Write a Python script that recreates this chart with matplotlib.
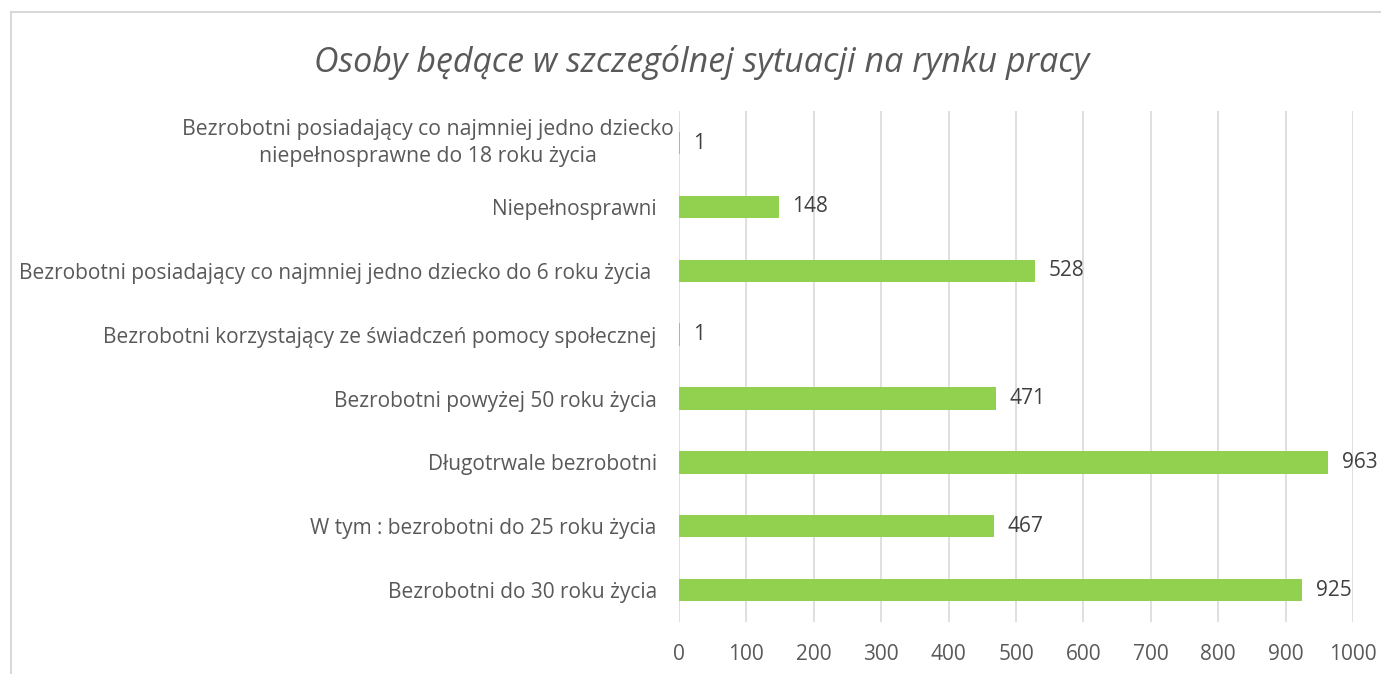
import matplotlib.pyplot as plt
from matplotlib.lines import Line2D

categories = [
    'Bezrobotni do 30 roku życia',
    'W tym : bezrobotni do 25 roku życia',
    'Długotrwale bezrobotni',
    'Bezrobotni powyżej 50 roku życia',
    'Bezrobotni korzystający ze świadczeń pomocy społecznej',
    'Bezrobotni posiadający co najmniej jedno dziecko do 6 roku życia ',
    'Niepełnosprawni',
    'Bezrobotni posiadający co najmniej jedno dziecko\nniepełnosprawne do 18 roku życia',
]
values = [925, 467, 963, 471, 1, 528, 148, 1]
xticks = [0, 100, 200, 300, 400, 500, 600, 700, 800, 900, 1000]

plt.rcParams['font.family'] = ['Open Sans', 'DejaVu Sans']
text_color = '#595959'

fig = plt.figure(figsize=(13.81, 6.74), dpi=100)
ax = fig.add_axes([0.4917, 0.0772, 0.488, 0.7578])

y = list(range(len(categories)))
ax.barh(y, values, height=0.35, color='#92D050', zorder=3)
for i, v in enumerate(values):
    ax.text(v + 20, i, str(v), va='center', ha='left', fontsize=15, color='#404040')

ax.set_xlim(0, 1000)
ax.set_ylim(-0.5, len(categories) - 0.5)
ax.set_xticks(xticks)
ax.set_xticklabels([str(t) for t in xticks])
ax.set_yticks(y)
# the wrapped label is drawn separately (centred, as in the original)
ax.set_yticklabels(categories[:-1] + [''])
ax.text(-0.3724, y[-1], categories[-1], transform=ax.get_yaxis_transform(),
        ha='center', va='center', multialignment='center', linespacing=1.35,
        fontsize=15.3, color=text_color)
ax.tick_params(axis='x', length=0, pad=16, labelsize=15, labelcolor=text_color)
ax.tick_params(axis='y', length=0, pad=16, labelsize=15, labelcolor=text_color)
ax.grid(axis='x', color='#D9D9D9', linewidth=1.2, zorder=0)
for s in ax.spines.values():
    s.set_visible(False)

fig.text(0.508, 0.908, 'Osoby będące w szczególnej sytuacji na rynku pracy',
         ha='center', va='center', fontsize=24.5, style='italic', color=text_color)

# chart border (clipped at right and bottom)
fig.add_artist(Line2D([11 / 1381, 11 / 1381], [0, 1 - 12 / 674],
                      transform=fig.transFigure, color='#D9D9D9', linewidth=1.5))
fig.add_artist(Line2D([11 / 1381, 1], [1 - 12 / 674, 1 - 12 / 674],
                      transform=fig.transFigure, color='#D9D9D9', linewidth=1.5))

fig.savefig('out.png', dpi=100)
